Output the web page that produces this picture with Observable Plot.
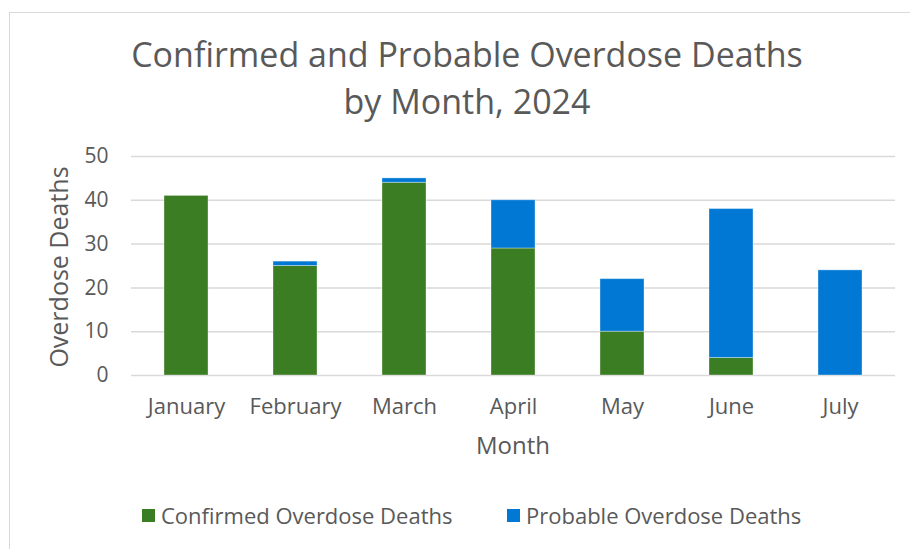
<!DOCTYPE html>
<html>
<head>
<meta charset="utf-8">
<script src="https://cdn.jsdelivr.net/npm/d3@7"></script>
<script src="https://cdn.jsdelivr.net/npm/@observablehq/plot@0.6"></script>
<style>
  html, body { margin: 0; padding: 0; background: #fff; }
  #wrap { position: relative; width: 910px; height: 549px; overflow: hidden; font-family: "Open Sans", sans-serif; color: #595959; background: #fff; }
  #frame { position: absolute; left: 9px; top: 12px; width: 1000px; height: 1000px; border-left: 1.5px solid #d9d9d9; border-top: 1.5px solid #d9d9d9; }
  #title { position: absolute; left: 467px; top: 31px; transform: translateX(-50%); text-align: center; font-size: 34px; line-height: 47px; white-space: nowrap; }
  #ylabel { position: absolute; left: 58px; top: 267px; transform: translate(-50%, -50%) rotate(-90deg); font-size: 25px; white-space: nowrap; }
  #xlabel { position: absolute; left: 513px; top: 444px; transform: translate(-50%, -50%); font-size: 24px; white-space: nowrap; }
  #chart { position: absolute; left: 0; top: 140px; }
  #legend { position: absolute; top: 515px; left: 0; width: 910px; height: 0; }
  .li { position: absolute; transform: translateY(-50%); display: flex; align-items: center; font-size: 22px; white-space: nowrap; }
  .sw { width: 13px; height: 13px; margin-right: 6px; }
</style>
</head>
<body>
<div id="wrap">
  <div id="frame"></div>
  <div id="title">Confirmed and Probable Overdose Deaths<br>by Month, 2024</div>
  <div id="chart"></div>
  <div id="ylabel">Overdose Deaths</div>
  <div id="xlabel">Month</div>
  <div id="legend"></div>
</div>
<script>
const months = ["January", "February", "March", "April", "May", "June", "July"];
const confirmed = [41, 25, 44, 29, 10, 4, 0];
const probable = [0, 1, 1, 11, 12, 34, 24];
const seriesNames = ["Confirmed Overdose Deaths", "Probable Overdose Deaths"];
const seriesColors = ["#3b7d23", "#0078d4"];
const yTicks = [0, 10, 20, 30, 40, 50];

const rows = [];
months.forEach((m, i) => {
  rows.push({month: m, series: seriesNames[0], value: confirmed[i]});
  rows.push({month: m, series: seriesNames[1], value: probable[i]});
});

const chart = Plot.plot({
  width: 910,
  height: 330,
  marginLeft: 131,
  marginRight: 15,
  marginTop: 16,
  marginBottom: 95,
  style: {fontFamily: "'Open Sans', sans-serif", fontSize: "20px", color: "#595959", background: "transparent"},
  x: {domain: months, paddingInner: 0.6, paddingOuter: 0.3, label: null, tickSize: 0, tickPadding: 23},
  y: {domain: [0, 50], ticks: yTicks, label: null, tickSize: 0, tickPadding: 23},
  color: {domain: seriesNames, range: seriesColors},
  marks: [
    Plot.gridY(yTicks, {stroke: "#d9d9d9", strokeOpacity: 1, strokeWidth: 1.5}),
    Plot.barY(rows, Plot.stackY({order: seriesNames}, {x: "month", y: "value", fill: "series", stroke: "#ffffff", strokeOpacity: 0.35, strokeWidth: 1})),
    Plot.axisX({tickSize: 0, tickPadding: 23, label: null, fontSize: 22}),
    Plot.axisY(yTicks, {tickSize: 0, tickPadding: 23, label: null, fontSize: 21})
  ]
});
document.getElementById("chart").appendChild(chart);

const legend = document.getElementById("legend");
const legendX = [142, 507];
seriesNames.forEach((name, i) => {
  const item = document.createElement("div");
  item.className = "li";
  item.style.left = legendX[i] + "px";
  const sw = document.createElement("span");
  sw.className = "sw";
  sw.style.background = seriesColors[i];
  const t = document.createElement("span");
  t.textContent = name;
  item.appendChild(sw);
  item.appendChild(t);
  legend.appendChild(item);
});
</script>
</body>
</html>
